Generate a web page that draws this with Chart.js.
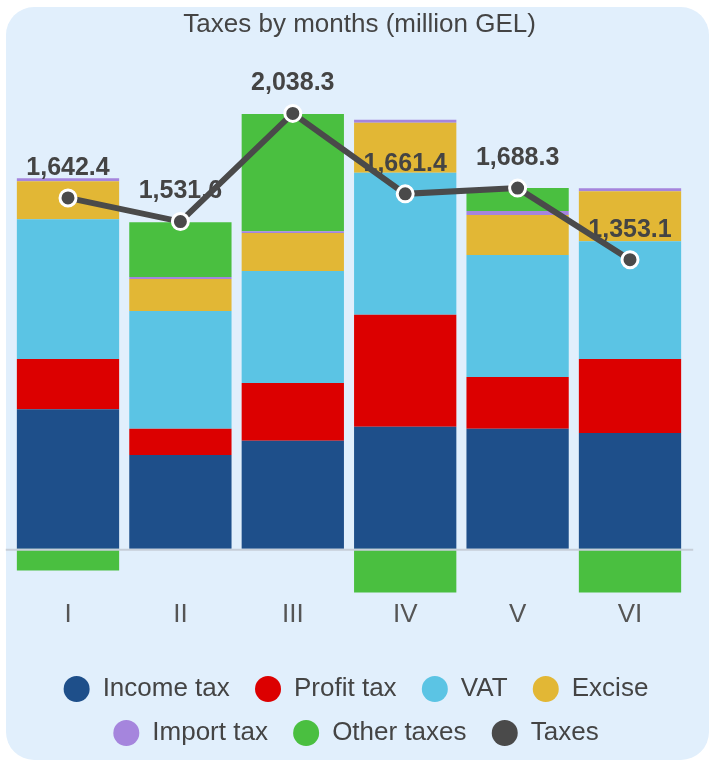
<!DOCTYPE html>
<html>
<head>
<meta charset="utf-8">
<script src="https://cdn.jsdelivr.net/npm/chart.js@4/dist/chart.umd.min.js"></script>
<style>
  html, body { margin: 0; padding: 0; background: #ffffff; }
  #card {
    position: absolute; left: 6px; top: 7px; width: 703px; height: 753px;
    background: #e1effc; border-radius: 28px;
  }
  #wrap { position: absolute; left: 0; top: 0; width: 709px; height: 762px; }
</style>
</head>
<body>
<div id="card"></div>
<div id="wrap"><canvas id="myChart" width="709" height="762"></canvas></div>
<script>
const months = ["I", "II", "III", "IV", "V", "VI"];
const incomeTax = [653, 439, 505, 571, 561, 542];
const profitTax = [235, 122, 271, 524, 243, 346];
const vat = [655, 552, 524, 665, 571, 552];
const excise = [178, 150, 178, 234, 187, 234];
const importTax = [14, 9, 8, 14, 19, 14];
const otherTaxes = [-103, 257, 549, -347, 108, -336];
const taxes = [1642.4, 1531.6, 2038.3, 1661.4, 1688.3, 1353.1];

const fontFamily = "'Liberation Sans', Arial, sans-serif";
Chart.defaults.font.family = fontFamily;
Chart.defaults.color = "#444";

const fmt = v => v.toLocaleString("en-US", { minimumFractionDigits: 1, maximumFractionDigits: 1 });

// zero line + value labels, drawn after the bars but under the line
const overlay = {
  id: "overlay",
  beforeDatasetDraw(chart, args) {
    if (args.meta.type !== "line") return;
    const { ctx, chartArea, scales } = chart;
    const y0 = scales.y.getPixelForValue(0);
    ctx.save();
    ctx.strokeStyle = "#c6ced8";
    ctx.lineWidth = 2;
    ctx.beginPath();
    ctx.moveTo(chartArea.left - 6, y0 + 1);
    ctx.lineTo(chartArea.right + 7, y0 + 1);
    ctx.stroke();
    ctx.font = "bold 25px " + fontFamily;
    ctx.fillStyle = "#444";
    ctx.textAlign = "center";
    ctx.textBaseline = "middle";
    args.meta.data.forEach((pt, i) => ctx.fillText(fmt(taxes[i]), pt.x, pt.y - 30));
    ctx.restore();
  }
};

const bar = (label, data, color) => ({
  type: "bar", label, data, backgroundColor: color, borderWidth: 0,
  order: 1, clip: 0, stack: "s"
});

document.addEventListener("DOMContentLoaded", () => {
  const ctx = document.getElementById("myChart").getContext("2d");
  new Chart(ctx, {
    data: {
      labels: months,
      datasets: [
        bar("Income tax", incomeTax, "#1e4f8a"),
        bar("Profit tax", profitTax, "#dc0000"),
        bar("VAT", vat, "#5bc4e4"),
        bar("Excise", excise, "#e2b735"),
        bar("Import tax", importTax, "#a585dd"),
        bar("Other taxes", otherTaxes, "#4abf40"),
        {
          type: "line", label: "Taxes", data: taxes, order: 0, stack: "line",
          borderColor: "#4a4a4a", borderWidth: 6,
          pointRadius: 8, pointBorderWidth: 3,
          pointBackgroundColor: "#4a4a4a", pointBorderColor: "#ffffff",
          pointStyle: "circle", tension: 0
        }
      ]
    },
    options: {
      responsive: false,
      animation: false,
      layout: { padding: { left: 11.8, right: 1.6, top: 0, bottom: 6 } },
      datasets: { bar: { categoryPercentage: 0.91, barPercentage: 1 } },
      scales: {
        x: {
          stacked: true,
          grid: { display: false, drawTicks: false },
          border: { display: false },
          ticks: { padding: 7, color: "#555", font: { size: 26 } },
          afterFit: s => { s.height = 65.6; }
        },
        y: {
          stacked: true,
          position: "right",
          min: -205,
          max: 2300,
          grid: { display: false, drawTicks: false },
          border: { display: false },
          ticks: { display: false },
          afterFit: s => { s.width = 21.2; }
        }
      },
      plugins: {
        title: {
          display: true,
          text: "Taxes by months (million GEL)",
          color: "#444",
          font: { size: 26, weight: "normal" },
          padding: { top: 9.5, bottom: 16.8 }
        },
        legend: {
          position: "bottom",
          labels: {
            usePointStyle: true,
            pointStyle: "circle",
            pointStyleWidth: 26,
            boxHeight: 18.4,
            padding: 18,
            color: "#444",
            font: { size: 26 },
            sort: (a, b) => a.datasetIndex - b.datasetIndex,
            generateLabels: chart =>
              Chart.defaults.plugins.legend.labels.generateLabels(chart)
                .map(item => Object.assign(item, { lineWidth: 0, text: item.text + " " }))
          }
        },
        tooltip: { enabled: false }
      }
    },
    plugins: [overlay]
  });
});
</script>
</body>
</html>
